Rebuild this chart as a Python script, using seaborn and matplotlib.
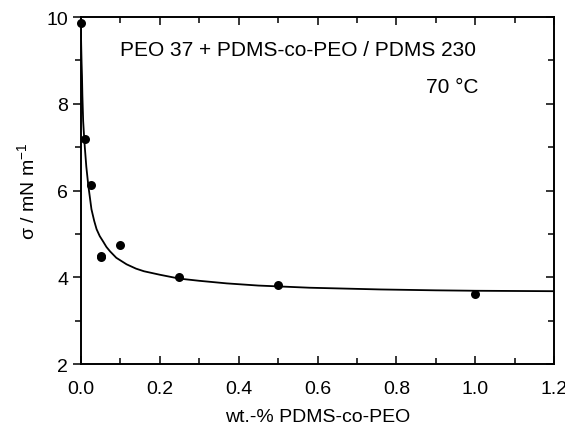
import matplotlib
matplotlib.use("Agg")
import matplotlib.pyplot as plt
import seaborn as sns
import pandas as pd
from matplotlib.ticker import MultipleLocator

# measured data
conc = [0.0, 0.01, 0.025, 0.05, 0.05, 0.1, 0.25, 0.5, 1.0]
sigma = [9.87, 7.18, 6.14, 4.50, 4.46, 4.74, 4.00, 3.82, 3.61]

# fit curve
fit_x = [0.0, 0.001, 0.002, 0.003, 0.004, 0.006, 0.008, 0.010, 0.014, 0.019, 0.027,
         0.034, 0.040, 0.048, 0.057, 0.065, 0.074, 0.09, 0.116, 0.14, 0.16, 0.2,
         0.25, 0.3, 0.37, 0.45, 0.58, 0.76, 0.9, 1.0, 1.1, 1.2]
fit_y = [9.87, 9.35, 8.95, 8.65, 8.2, 7.6, 7.3, 7.02, 6.55, 6.12, 5.57,
         5.3, 5.11, 4.95, 4.82, 4.7, 4.6, 4.45, 4.3, 4.2, 4.14, 4.06,
         3.97, 3.92, 3.86, 3.81, 3.76, 3.72, 3.70, 3.69, 3.685, 3.68]

sns.set_style("ticks")
plt.rcParams['font.family'] = ['Liberation Sans', 'DejaVu Sans']
plt.rcParams['mathtext.fontset'] = 'custom'
plt.rcParams['mathtext.rm'] = 'Liberation Sans'
plt.rcParams['mathtext.it'] = 'Liberation Sans'
plt.rcParams['text.color'] = 'black'
plt.rcParams['axes.labelcolor'] = 'black'
plt.rcParams['xtick.color'] = 'black'
plt.rcParams['ytick.color'] = 'black'

fig = plt.figure(figsize=(5.65, 4.31), dpi=100)
ax = fig.add_axes([0.143, 0.153, 0.838, 0.805])

pts = pd.DataFrame({"x": conc, "y": sigma})
fit = pd.DataFrame({"x": fit_x, "y": fit_y})
sns.lineplot(data=fit, x="x", y="y", ax=ax, color="black", linewidth=1.3, sort=False)
sns.scatterplot(data=pts, x="x", y="y", ax=ax, color="black", s=42, edgecolor="black",
                linewidth=0, zorder=5, clip_on=False)

ax.set_xlim(0, 1.2)
ax.set_ylim(2, 10)
ax.xaxis.set_major_locator(MultipleLocator(0.2))
ax.xaxis.set_minor_locator(MultipleLocator(0.1))
ax.yaxis.set_major_locator(MultipleLocator(2))
ax.yaxis.set_minor_locator(MultipleLocator(1))
ax.xaxis.set_major_formatter(matplotlib.ticker.FormatStrFormatter('%.1f'))

for s in ax.spines.values():
    s.set_visible(True)
    s.set_linewidth(1.2)
    s.set_color("black")

ax.tick_params(axis='x', which='both', direction='in', top=True, bottom=True,
               labelsize=14, colors='black', pad=11.5)
ax.tick_params(axis='y', which='both', direction='out', left=True, right=False,
               labelsize=14, colors='black', pad=3)
ax.tick_params(which='major', length=6, width=1.1)
ax.tick_params(which='minor', length=4, width=1.1)
# right axis ticks inward
ax2 = ax.twinx()
ax2.set_ylim(2, 10)
ax2.yaxis.set_major_locator(MultipleLocator(2))
ax2.yaxis.set_minor_locator(MultipleLocator(1))
ax2.tick_params(axis='y', which='both', direction='in', labelright=False, colors='black')
ax2.tick_params(which='major', length=6, width=1.1)
ax2.tick_params(which='minor', length=4, width=1.1)
for s in ax2.spines.values():
    s.set_linewidth(1.2)
    s.set_color("black")

ax.set_xlabel("wt.-% PDMS-co-PEO", fontsize=14, labelpad=8)
ax.set_ylabel("σ / mN m$^{-1}$", fontsize=14, labelpad=6)

ax.text(0.099, 9.26, "PEO 37 + PDMS-co-PEO / PDMS 230", fontsize=15, va='center', ha='left')
ax.text(1.007, 8.4, "70 °C", fontsize=15, va='center', ha='right')

fig.savefig("out.png", dpi=100)
